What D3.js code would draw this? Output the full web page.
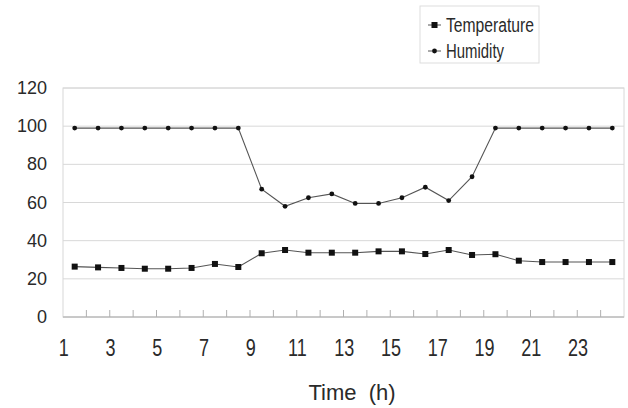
<!DOCTYPE html>
<html>
<head>
<meta charset="utf-8">
<script src="https://cdn.jsdelivr.net/npm/d3@7"></script>
<style>
  body { margin: 0; background: #fff; }
  text { font-family: "Liberation Sans", Arial, sans-serif; fill: #2a2a2a; }
</style>
</head>
<body>
<div id="chart"></div>
<script>
// hours 1..24
var hours = d3.range(1, 25)
var temperature = [26.4, 26.0, 25.7, 25.3, 25.3, 25.7, 27.8, 26.2, 33.4, 35.1, 33.7, 33.7,
                   33.7, 34.4, 34.4, 33.0, 35.1, 32.5, 32.9, 29.5, 28.8, 28.8, 28.8, 28.8]
var humidity = [99, 99, 99, 99, 99, 99, 99, 99, 67, 58, 62.5, 64.5,
                59.5, 59.5, 62.5, 68, 61, 73.5, 99, 99, 99, 99, 99, 99]
var yTicks = [0, 20, 40, 60, 80, 100, 120]
var xLabels = [1, 3, 5, 7, 9, 11, 13, 15, 17, 19, 21, 23]

var width = 628, height = 408
var margin = {left: 63, right: 4, top: 88, bottom: 91}

var svg = d3.select("#chart").append("svg")
    .attr("width", width)
    .attr("height", height)

var x = d3.scaleBand()
    .domain(hours)
    .range([margin.left, width - margin.right])

var y = d3.scaleLinear()
    .domain([0, 120])
    .range([height - margin.bottom, margin.top])

// gridlines
svg.append("g")
    .selectAll("line")
    .data(yTicks)
    .enter()
    .append("line")
    .attr("x1", margin.left)
    .attr("x2", width - margin.right)
    .attr("y1", d => y(d))
    .attr("y2", d => y(d))
    .attr("stroke", "#d8d8d8")

// frame
svg.append("rect")
    .attr("x", margin.left)
    .attr("y", margin.top)
    .attr("width", width - margin.right - margin.left)
    .attr("height", y(0) - margin.top)
    .attr("fill", "none")
    .attr("stroke", "#d8d8d8")

// bottom axis line + inner ticks at band edges
svg.append("line")
    .attr("x1", margin.left).attr("x2", width - margin.right)
    .attr("y1", y(0)).attr("y2", y(0))
    .attr("stroke", "#b0b0b0")

svg.append("g")
    .selectAll("line")
    .data(hours.slice(1))
    .enter()
    .append("line")
    .attr("x1", d => x(d))
    .attr("x2", d => x(d))
    .attr("y1", y(0))
    .attr("y2", y(0) - 7)
    .attr("stroke", "#b0b0b0")

// y labels
svg.append("g")
    .selectAll("text")
    .data(yTicks)
    .enter()
    .append("text")
    .attr("x", 47)
    .attr("y", d => y(d) + 6)
    .attr("text-anchor", "end")
    .style("font-size", "18px")
    .text(d => d)

// x labels (taller glyphs in the original)
svg.append("g")
    .selectAll("text")
    .data(xLabels)
    .enter()
    .append("text")
    .attr("transform", d => "translate(" + (x(d) + x.bandwidth() / 2 - 11) + ",356) scale(1,1.35)")
    .attr("text-anchor", "middle")
    .style("font-size", "18px")
    .text(d => d)

svg.append("text")
    .attr("x", 352)
    .attr("y", 400)
    .attr("text-anchor", "middle")
    .style("font-size", "22px")
    .style("white-space", "pre")
    .text("Time  (h)")

var cx = d => x(d) + x.bandwidth() / 2

var line = d3.line()
    .x((d, i) => cx(hours[i]))
    .y(d => y(d))

svg.append("path")
    .datum(humidity)
    .attr("d", line)
    .attr("fill", "none")
    .attr("stroke", "#555")
    .attr("stroke-width", 1.1)

svg.append("path")
    .datum(temperature)
    .attr("d", line)
    .attr("fill", "none")
    .attr("stroke", "#555")
    .attr("stroke-width", 1.1)

svg.append("g")
    .selectAll("circle")
    .data(humidity)
    .enter()
    .append("circle")
    .attr("cx", (d, i) => cx(hours[i]))
    .attr("cy", d => y(d))
    .attr("r", 2.4)
    .attr("fill", "#111")

svg.append("g")
    .selectAll("rect")
    .data(temperature)
    .enter()
    .append("rect")
    .attr("x", (d, i) => cx(hours[i]) - 3)
    .attr("y", d => y(d) - 3)
    .attr("width", 6)
    .attr("height", 6)
    .attr("fill", "#111")

// legend
var legend = svg.append("g")
var series = [{name: "Temperature", shape: "square", len: 88}, {name: "Humidity", shape: "circle", len: 58}]
var lx = 446, ly = [32, 58]

legend.append("rect")
    .attr("x", lx - 26)
    .attr("y", 6)
    .attr("width", 539 - (lx - 26))
    .attr("height", 57)
    .attr("fill", "#fff")
    .attr("stroke", "#ddd")

series.forEach(function (s, i) {
    var my = ly[i] - 7
    legend.append("line")
        .attr("x1", lx - 18).attr("x2", lx - 5)
        .attr("y1", my).attr("y2", my)
        .attr("stroke", "#555")
    if (s.shape == "square") {
        legend.append("rect")
            .attr("x", lx - 14.5).attr("y", my - 3)
            .attr("width", 6).attr("height", 6)
            .attr("fill", "#111")
    } else {
        legend.append("circle")
            .attr("cx", lx - 11.5).attr("cy", my)
            .attr("r", 2.4)
            .attr("fill", "#111")
    }
    legend.append("text")
        .attr("x", lx)
        .attr("y", ly[i])
        .attr("textLength", s.len)
        .attr("lengthAdjust", "spacingAndGlyphs")
        .style("font-size", "20px")
        .text(s.name)
})
</script>
</body>
</html>
